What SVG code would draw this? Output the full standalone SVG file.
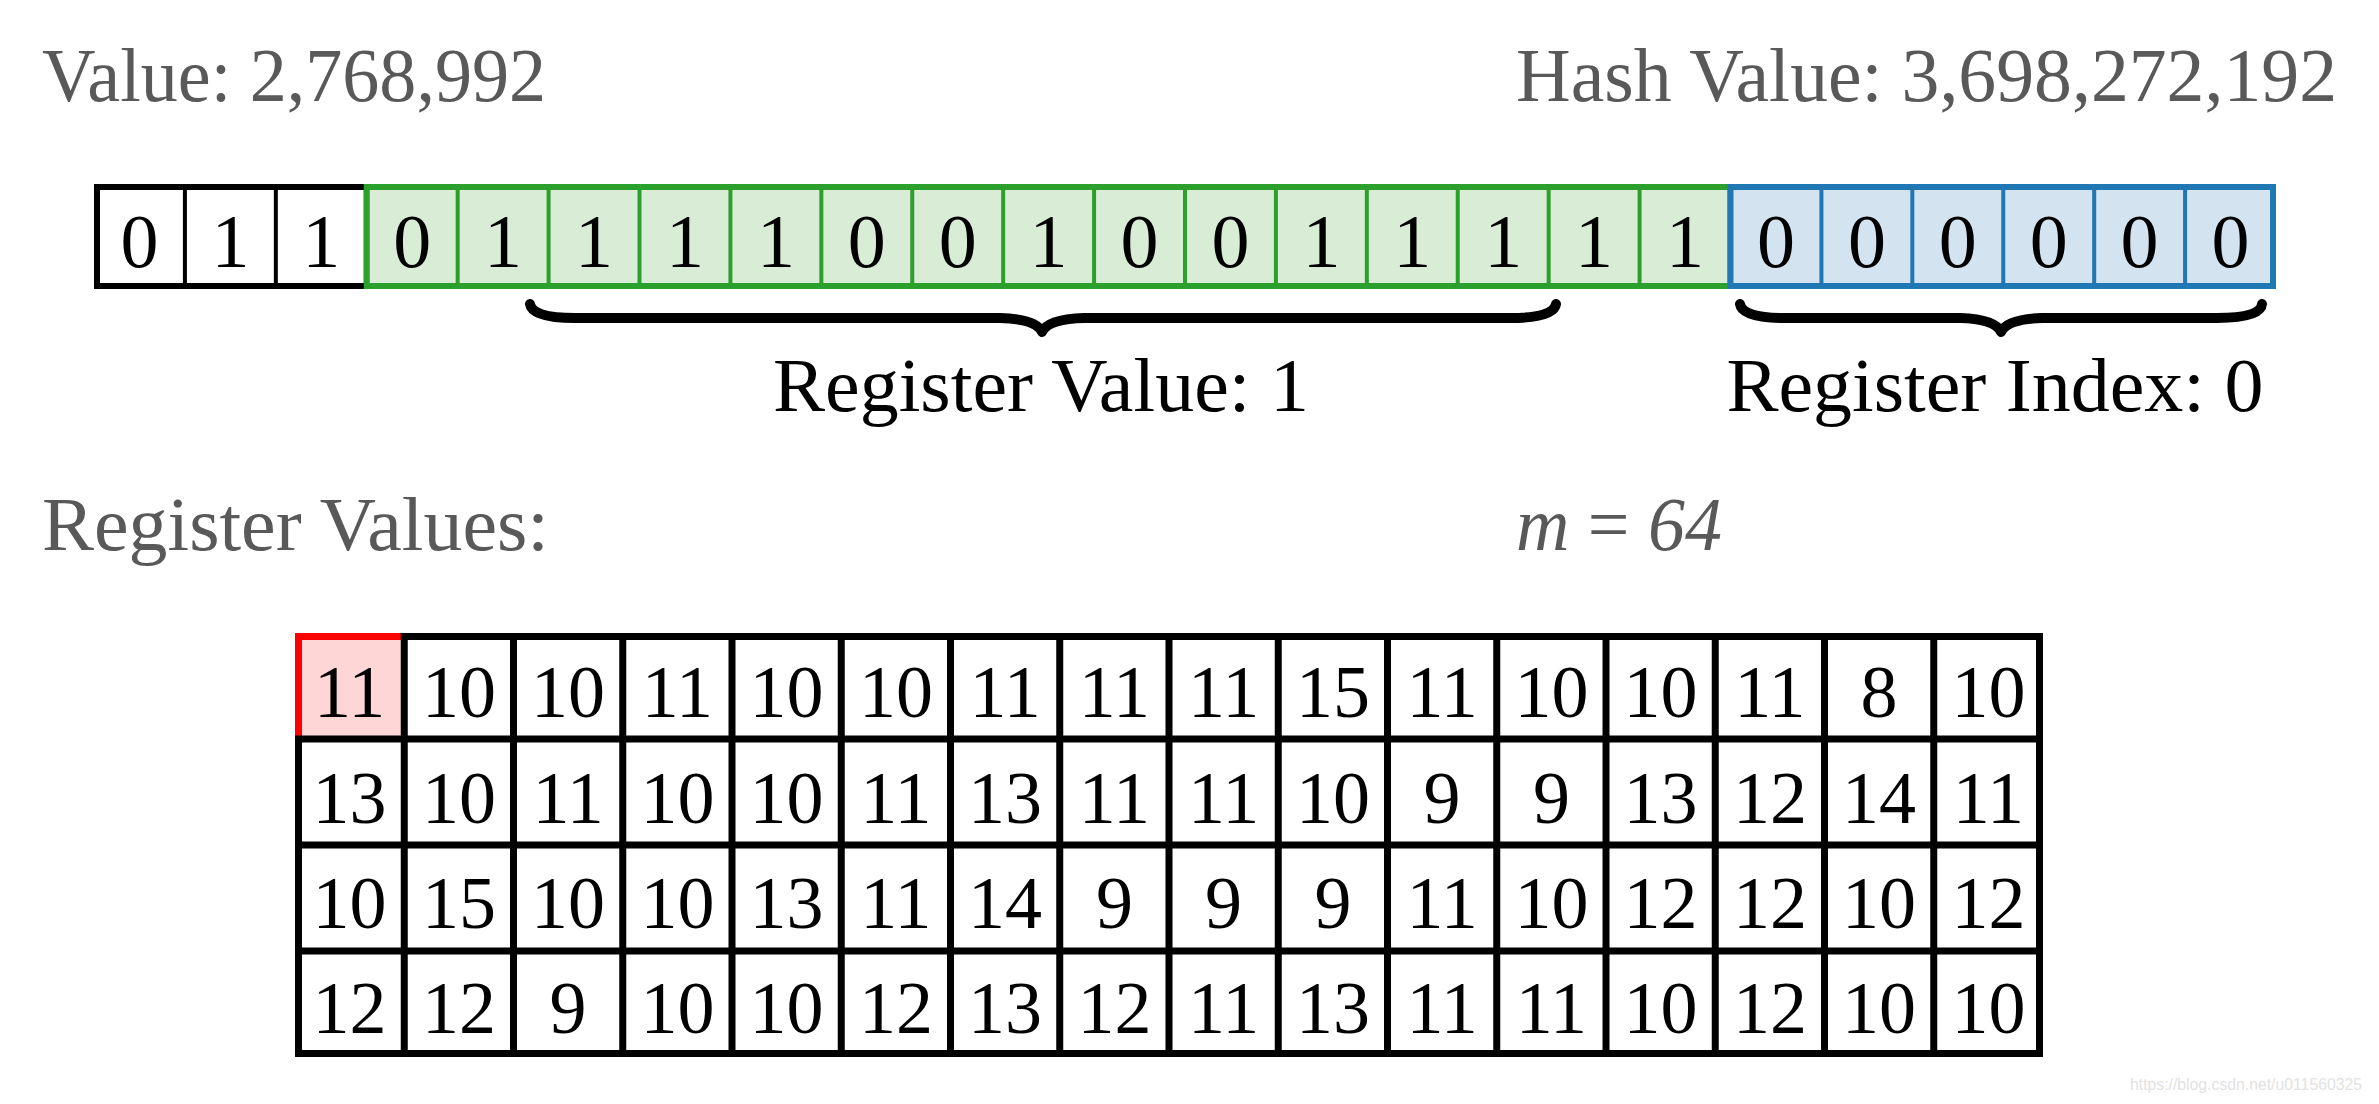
<svg xmlns="http://www.w3.org/2000/svg" width="2379" height="1104" viewBox="0 0 2379 1104">
<style>
text{font-family:"Liberation Serif","DejaVu Serif",serif}
.gray{fill:#595959;font-size:76px}
.lab{fill:#000;font-size:76px;text-anchor:middle}
.bit{fill:#000;font-size:76px;text-anchor:middle}
.num{fill:#000;font-size:74px;text-anchor:middle}
.dk{stroke:#000;fill:none}
.gn{stroke:#2ca02c;fill:#d9ecd6}
.bl{stroke:#1f77b4;fill:#d3e3f0}
.brace{stroke:#000;stroke-width:10;fill:none;stroke-linecap:round;stroke-linejoin:round}
.wm{font-family:"Liberation Sans",Arial,sans-serif;font-size:17px;fill:#e2e2e2}
</style>
<rect width="2379" height="1104" fill="#fff"/>

<g id="title-value"><text class="gray" x="42" y="101" textLength="504" lengthAdjust="spacingAndGlyphs">Value: 2,768,992</text></g>
<g id="title-hash"><text class="gray" x="2337" y="101" text-anchor="end" textLength="821" lengthAdjust="spacingAndGlyphs">Hash Value: 3,698,272,192</text></g>

<g id="bits-prefix">
<rect x="97" y="187" width="269.75" height="99" fill="#fff" stroke="#000" stroke-width="6"/>
<path class="dk" stroke-width="4" d="M184.92 187V286M275.83 187V286"/>
<text class="bit" x="139.5" y="267">0</text>
<text class="bit" x="230.4" y="267">1</text>
<text class="bit" x="321.3" y="267">1</text>
</g>

<g id="bits-register-value">
<rect class="gn" x="366.75" y="187" width="1363.75" height="99" stroke-width="6"/>
<path class="gn" fill="none" stroke-width="4" d="M457.67 187V286M548.58 187V286M639.5 187V286M730.42 187V286M821.33 187V286M912.25 187V286M1003.17 187V286M1094.08 187V286M1185 187V286M1275.92 187V286M1366.83 187V286M1457.75 187V286M1548.67 187V286M1639.58 187V286"/>
<text class="bit" x="412.2" y="267">0</text>
<text class="bit" x="503.1" y="267">1</text>
<text class="bit" x="594.0" y="267">1</text>
<text class="bit" x="685.0" y="267">1</text>
<text class="bit" x="775.9" y="267">1</text>
<text class="bit" x="866.8" y="267">0</text>
<text class="bit" x="957.7" y="267">0</text>
<text class="bit" x="1048.6" y="267">1</text>
<text class="bit" x="1139.5" y="267">0</text>
<text class="bit" x="1230.5" y="267">0</text>
<text class="bit" x="1321.4" y="267">1</text>
<text class="bit" x="1412.3" y="267">1</text>
<text class="bit" x="1503.2" y="267">1</text>
<text class="bit" x="1594.1" y="267">1</text>
<text class="bit" x="1685.0" y="267">1</text>
</g>

<g id="bits-register-index">
<rect class="bl" x="1730.5" y="187" width="542.5" height="99" stroke-width="6"/>
<path class="bl" fill="none" stroke-width="4" d="M1821.42 187V286M1912.33 187V286M2003.25 187V286M2094.17 187V286M2185.08 187V286"/>
<text class="bit" x="1776.0" y="267">0</text>
<text class="bit" x="1866.9" y="267">0</text>
<text class="bit" x="1957.8" y="267">0</text>
<text class="bit" x="2048.7" y="267">0</text>
<text class="bit" x="2139.6" y="267">0</text>
<text class="bit" x="2230.5" y="267">0</text>
</g>

<g id="braces">
<path class="brace" d="M530 304Q532 318 575 318L1000 318Q1036 319 1042 332Q1048 319 1084 318L1510 318Q1554 318 1556 304"/>
<path class="brace" d="M1740 304Q1742 318 1785 318L1960 318Q1995 319 2001 332Q2007 319 2042 318L2217 318Q2261 318 2262 304"/>
</g>

<g id="label-register-value"><text class="lab" x="1041" y="411" textLength="536" lengthAdjust="spacingAndGlyphs">Register Value: 1</text></g>
<g id="label-register-index"><text class="lab" x="1995" y="411" textLength="537" lengthAdjust="spacingAndGlyphs">Register Index: 0</text></g>

<g id="title-registers"><text class="gray" x="42" y="550" textLength="507" lengthAdjust="spacingAndGlyphs">Register Values:</text></g>
<g id="title-m"><text class="gray" x="1516" y="550" textLength="206" lengthAdjust="spacingAndGlyphs"><tspan font-style="italic">m</tspan> = <tspan font-style="italic">64</tspan></text></g>

<g id="registers-table">
<rect x="295" y="633" width="109.25" height="106" fill="#ffd6d6"/>
<rect x="298.5" y="636.5" width="1741" height="417" fill="none" stroke="#000" stroke-width="7"/>
<path d="M295 636.5H404.25M298.5 633V739" stroke="#ff0000" stroke-width="7" fill="none"/>
<path class="dk" stroke-width="7" d="M404.25 633V1057M513.5 633V1057M622.75 633V1057M732 633V1057M841.25 633V1057M950.5 633V1057M1059.75 633V1057M1169 633V1057M1278.25 633V1057M1387.5 633V1057M1496.75 633V1057M1606 633V1057M1715.25 633V1057M1824.5 633V1057M1933.75 633V1057M295 739H2043M295 845H2043M295 951H2043"/>
<g id="row-1">
<text class="num" x="349.6" y="717">11</text><text class="num" x="458.9" y="717">10</text><text class="num" x="568.1" y="717">10</text><text class="num" x="677.4" y="717">11</text><text class="num" x="786.6" y="717">10</text><text class="num" x="895.9" y="717">10</text><text class="num" x="1005.1" y="717">11</text><text class="num" x="1114.4" y="717">11</text><text class="num" x="1223.6" y="717">11</text><text class="num" x="1332.9" y="717">15</text><text class="num" x="1442.1" y="717">11</text><text class="num" x="1551.4" y="717">10</text><text class="num" x="1660.6" y="717">10</text><text class="num" x="1769.9" y="717">11</text><text class="num" x="1879.1" y="717">8</text><text class="num" x="1988.4" y="717">10</text>
</g>
<g id="row-2">
<text class="num" x="349.6" y="823">13</text><text class="num" x="458.9" y="823">10</text><text class="num" x="568.1" y="823">11</text><text class="num" x="677.4" y="823">10</text><text class="num" x="786.6" y="823">10</text><text class="num" x="895.9" y="823">11</text><text class="num" x="1005.1" y="823">13</text><text class="num" x="1114.4" y="823">11</text><text class="num" x="1223.6" y="823">11</text><text class="num" x="1332.9" y="823">10</text><text class="num" x="1442.1" y="823">9</text><text class="num" x="1551.4" y="823">9</text><text class="num" x="1660.6" y="823">13</text><text class="num" x="1769.9" y="823">12</text><text class="num" x="1879.1" y="823">14</text><text class="num" x="1988.4" y="823">11</text>
</g>
<g id="row-3">
<text class="num" x="349.6" y="928">10</text><text class="num" x="458.9" y="928">15</text><text class="num" x="568.1" y="928">10</text><text class="num" x="677.4" y="928">10</text><text class="num" x="786.6" y="928">13</text><text class="num" x="895.9" y="928">11</text><text class="num" x="1005.1" y="928">14</text><text class="num" x="1114.4" y="928">9</text><text class="num" x="1223.6" y="928">9</text><text class="num" x="1332.9" y="928">9</text><text class="num" x="1442.1" y="928">11</text><text class="num" x="1551.4" y="928">10</text><text class="num" x="1660.6" y="928">12</text><text class="num" x="1769.9" y="928">12</text><text class="num" x="1879.1" y="928">10</text><text class="num" x="1988.4" y="928">12</text>
</g>
<g id="row-4">
<text class="num" x="349.6" y="1033">12</text><text class="num" x="458.9" y="1033">12</text><text class="num" x="568.1" y="1033">9</text><text class="num" x="677.4" y="1033">10</text><text class="num" x="786.6" y="1033">10</text><text class="num" x="895.9" y="1033">12</text><text class="num" x="1005.1" y="1033">13</text><text class="num" x="1114.4" y="1033">12</text><text class="num" x="1223.6" y="1033">11</text><text class="num" x="1332.9" y="1033">13</text><text class="num" x="1442.1" y="1033">11</text><text class="num" x="1551.4" y="1033">11</text><text class="num" x="1660.6" y="1033">10</text><text class="num" x="1769.9" y="1033">12</text><text class="num" x="1879.1" y="1033">10</text><text class="num" x="1988.4" y="1033">10</text>
</g>
</g>

<g id="watermark"><text class="wm" x="2130" y="1090" textLength="232" lengthAdjust="spacingAndGlyphs">https://blog.csdn.net/u011560325</text></g>
</svg>
